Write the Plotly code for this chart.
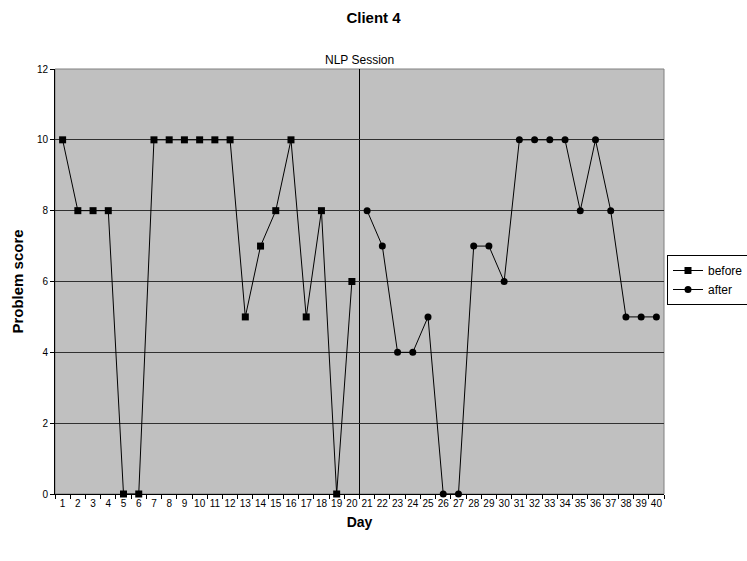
import plotly.graph_objects as go

days_before = list(range(1, 21))
before = [10, 8, 8, 8, 0, 0, 10, 10, 10, 10, 10, 10, 5, 7, 8, 10, 5, 8, 0, 6]
days_after = list(range(21, 41))
after = [8, 7, 4, 4, 5, 0, 0, 7, 7, 6, 10, 10, 10, 10, 8, 10, 8, 5, 5, 5]
tick_labels = [str(d) for d in range(1, 41)]
session_boundary = 20.5

FONT = "Liberation Sans, Arial, sans-serif"

fig = go.Figure()
fig.add_trace(go.Scatter(
    x=days_before, y=before, name="before", mode="lines+markers",
    line=dict(color="black", width=1),
    marker=dict(symbol="square", size=7, color="black"),
    cliponaxis=False,
))
fig.add_trace(go.Scatter(
    x=days_after, y=after, name="after", mode="lines+markers",
    line=dict(color="black", width=1),
    marker=dict(symbol="circle", size=7, color="black"),
    cliponaxis=False,
))

fig.add_shape(type="line", xref="x", yref="y", x0=session_boundary, x1=session_boundary,
              y0=0, y1=12, line=dict(color="black", width=1), layer="below")
fig.add_shape(type="rect", xref="paper", yref="paper", x0=0, x1=1, y0=0, y1=1,
              line=dict(color="#808080", width=1), layer="below")

fig.add_annotation(x=session_boundary, y=1, xref="x", yref="paper", yanchor="bottom",
                   text="NLP Session", showarrow=False, yshift=0,
                   font=dict(family=FONT, size=12, color="black"))

fig.update_layout(
    width=747, height=561,
    margin=dict(l=55, r=83, t=69, b=67, autoexpand=False),
    paper_bgcolor="white", plot_bgcolor="#C0C0C0",
    title=dict(text="<b>Client 4</b>", x=0.5, xanchor="center", y=1 - 18 / 561, yanchor="middle",
               font=dict(family=FONT, size=15, color="black")),
    showlegend=True,
    legend=dict(xref="container", yref="container", x=667 / 747, y=1 - 255 / 561,
                xanchor="left", yanchor="top",
                bgcolor="white", bordercolor="black", borderwidth=1,
                font=dict(family=FONT, size=12, color="black"),
                itemwidth=30, tracegroupgap=0),
    xaxis=dict(
        range=[0.5, 40.5], tickvals=list(range(1, 41)), ticktext=tick_labels,
        ticks="", showgrid=False, zeroline=False,
        showline=True, linecolor="black", linewidth=1,
        tickfont=dict(family=FONT, size=10, color="black"),
        minor=dict(ticks="outside", tick0=0.5, dtick=1, ticklen=4, tickcolor="black", showgrid=False),
        title=dict(text="<b>Day</b>", font=dict(family=FONT, size=14, color="black"), standoff=9),
    ),
    yaxis=dict(
        range=[0, 12], dtick=2, tick0=0, ticks="outside", ticklen=4, tickcolor="black",
        showgrid=True, gridcolor="#303030", gridwidth=1.3, zeroline=False,
        showline=True, linecolor="black", linewidth=1,
        tickfont=dict(family=FONT, size=10, color="black"),
        title=dict(text="<b>Problem score</b>", font=dict(family=FONT, size=15, color="black"), standoff=9),
    ),
)

fig.write_html("out.html")
